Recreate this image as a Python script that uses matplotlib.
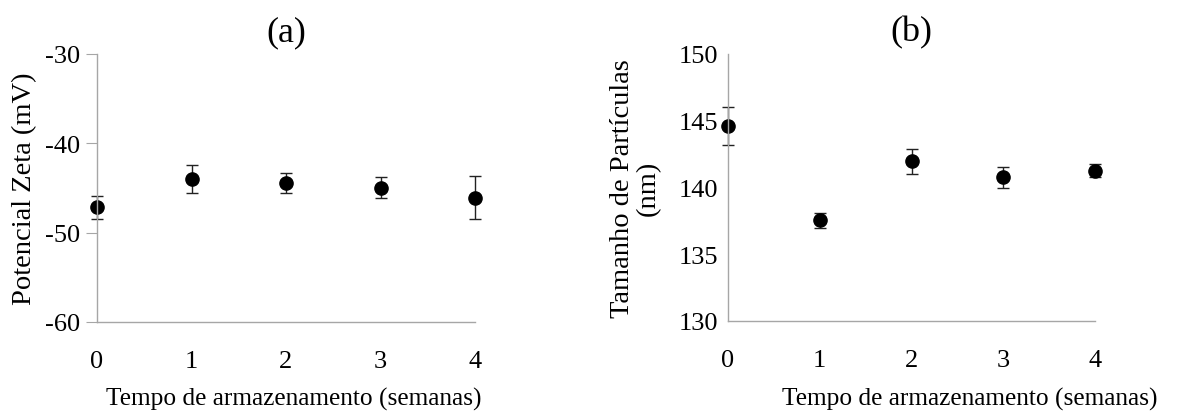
import matplotlib
matplotlib.use("Agg")
import matplotlib.pyplot as plt

weeks = [0, 1, 2, 3, 4]
zeta = [-47.15, -43.98, -44.46, -44.95, -46.07]
zeta_err = [1.3, 1.6, 1.1, 1.15, 2.4]
size = [144.6, 137.53, 141.95, 140.75, 141.27]
size_err = [1.4, 0.55, 0.96, 0.8, 0.5]

plt.rcParams['font.family'] = ['Liberation Serif', 'DejaVu Serif']
plt.rcParams['axes.unicode_minus'] = False

W, H = 1198, 414
fig = plt.figure(figsize=(W/100, H/100), dpi=100)

def box(l, r, t, b):
    return [l/W, 1 - b/H, (r-l)/W, (b-t)/H]

axc = '#a6a6a6'
tfs = 19
xfs = 18.3
yfs = 20.5

def style(ax, ticks_out):
    for s in ['top', 'right']:
        ax.spines[s].set_visible(False)
    for s in ['left', 'bottom']:
        ax.spines[s].set_color(axc)
        ax.spines[s].set_linewidth(1.0)
    ax.set_xlim(0, 4)
    ax.set_xticks(weeks)
    ax.tick_params(axis='x', length=0, pad=20, labelsize=tfs)
    if ticks_out:
        ax.tick_params(axis='y', direction='out', length=8, color=axc, labelsize=tfs, pad=4)
    else:
        ax.tick_params(axis='y', length=0, labelsize=tfs, pad=7)

ax1 = fig.add_axes(box(97, 475, 55, 323))
ax1.errorbar(weeks, zeta, yerr=zeta_err, fmt='o', color='black', ms=9.5,
             ecolor='#222222', elinewidth=1.0, capsize=4, capthick=1.0, clip_on=False)
ax1.set_ylim(-60, -30)
ax1.set_yticks([-60, -50, -40, -30])
style(ax1, True)
ax1.set_ylabel('Potencial Zeta (mV)', fontsize=yfs)
ax1.yaxis.set_label_coords(-(97-37)/(475-97), 0.5)
ax1.set_xlabel('Tempo de armazenamento (semanas)', fontsize=xfs)
ax1.xaxis.set_label_coords((294-97)/(475-97), -(388-323)/(323-55))
ax1.set_title('(a)', fontsize=26, pad=10)

ax2 = fig.add_axes(box(728, 1095, 55, 322))
ax2.errorbar(weeks, size, yerr=size_err, fmt='o', color='black', ms=9.5,
             ecolor='#222222', elinewidth=1.0, capsize=4, capthick=1.0, clip_on=False)
ax2.set_ylim(130, 150)
ax2.set_yticks([130, 135, 140, 145, 150])
style(ax2, False)
ax2.set_ylabel('Tamanho de Partículas\n(nm)', fontsize=yfs, linespacing=1.05)
ax2.yaxis.set_label_coords(-(728-661)/(1095-728), 0.5)
ax2.set_xlabel('Tempo de armazenamento (semanas)', fontsize=xfs)
ax2.xaxis.set_label_coords((970-728)/(1095-728), -(388-322)/(322-55))
ax2.set_title('(b)', fontsize=26, pad=10)

fig.savefig('out.png', dpi=100)
